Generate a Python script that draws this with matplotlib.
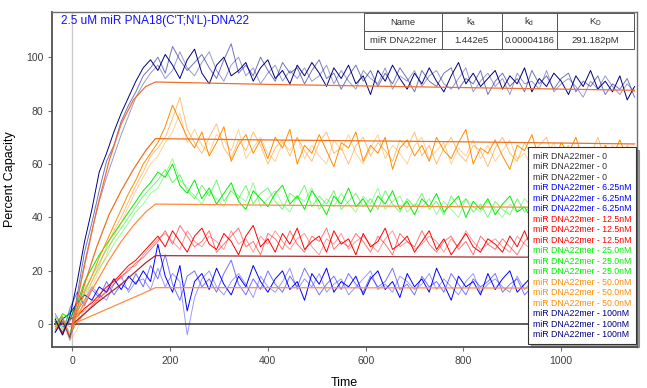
import numpy as np
import matplotlib
matplotlib.use('Agg')
import matplotlib.pyplot as plt
from matplotlib.lines import Line2D

plt.rcParams['font.family'] = ['Liberation Sans', 'DejaVu Sans']

# sampling grid of the sensorgram (s)
time = np.arange(-35, 1151, 15)

# 0 nM replicates (reference subtracted, flat)
zero_a = [0.0] * len(time)
zero_b = [0.0] * len(time)
zero_c = [0.0] * len(time)

# 6.25 nM
blue_a = [
    -3, 2, 4, 8, 11, 9, 14, 12, 17, 13,
    18, 15, 20, 16, 30, 18, 12, 22, 5, 16,
    19, 13, 21, 15, 11, 18, 14, 22, 16, 12,
    17, 20, 13, 16, 9, 19, 15, 21, 12, 16,
    14, 18, 11, 17, 20, 13, 16, 10, 19, 14,
    17, 12, 21, 15, 9, 18, 14, 16, 11, 19,
    13, 17, 20, 12, 15, 18, 10, 16, 14, 19,
    12, 15, 17, 11, 16, 13, 18, 10, 15, 14]
blue_b = [
    1, -4, 6, 12, 7, 13, 10, 16, 11, 15,
    13, 19, 14, 22, 17, 26, 15, 9, 18, 20,
    14, 17, 12, 19, 24, 15, 11, 17, 13, 20,
    15, 12, 18, 14, 21, 16, 11, 15, 18, 13,
    19, 15, 12, 18, 14, 16, 21, 13, 15, 11,
    18, 14, 16, 12, 19, 15, 11, 17, 14, 16,
    19, 12, 15, 17, 11, 14, 18, 13, 16, 12,
    17, 14, 11, 16, 19, 13, 15, 12, 17, 13]
blue_c = [
    0, 3, -6, 5, 9, 14, 11, 9, 15, 18,
    12, 16, 17, 13, 21, 14, 19, 16, -4, 10,
    17, 20, 14, 11, 16, 19, 15, 10, 18, 14,
    12, 16, 21, 13, 17, 14, 19, 12, 15, 17,
    11, 14, 17, 20, 13, 15, 12, 18, 16, 13,
    15, 19, 13, 17, 14, 11, 16, 19, 12, 15,
    17, 14, 12, 18, 13, 16, 15, 11, 17, 14,
    16, 12, 18, 14, 11, 16, 13, 17, 12, 15]

# 12.5 nM
red_a = [
    1, -3, 2, 3, 6, 8, 11, 14, 16, 19,
    22, 24, 27, 30, 33, 29, 35, 31, 27, 33,
    36, 30, 28, 34, 31, 26, 33, 37, 29, 32,
    27, 34, 30, 36, 28, 31, 33, 27, 35, 30,
    32, 26, 34, 29, 31, 36, 28, 30, 33, 27,
    31, 35, 28, 32, 26, 30, 34, 29, 27, 32,
    30, 27, 33, 29, 35, 28, 31, 26, 32, 29,
    33, 27, 30, 28, 34, 26, 31, 29, 27, 32]
red_b = [
    -2, 2, -4, 1, 4, 7, 10, 12, 15, 18,
    20, 23, 25, 28, 31, 35, 30, 37, 33, 29,
    31, 35, 27, 30, 33, 36, 29, 31, 26, 34,
    32, 28, 35, 30, 27, 33, 31, 36, 28, 31,
    29, 34, 31, 27, 33, 30, 26, 34, 31, 29,
    35, 30, 27, 31, 33, 28, 31, 26, 33, 30,
    28, 32, 29, 26, 31, 34, 28, 30, 27, 31,
    29, 33, 26, 30, 28, 32, 29, 25, 30, 28]
red_c = [
    0, 1, -1, 4, 5, 9, 9, 13, 17, 17,
    21, 22, 26, 29, 32, 34, 31, 28, 35, 31,
    29, 33, 31, 28, 35, 30, 32, 27, 33, 30,
    35, 31, 28, 32, 34, 29, 26, 32, 30, 34,
    28, 31, 33, 30, 27, 32, 35, 29, 31, 28,
    30, 33, 31, 27, 32, 29, 35, 31, 28, 30,
    32, 29, 27, 33, 30, 28, 32, 30, 26, 31,
    28, 31, 29, 32, 27, 30, 33, 28, 31, 27]

# 25.0 nM
green_a = [
    -1, 4, 2, 8, 16, 21, 26, 30, 34, 38,
    42, 46, 50, 53, 57, 55, 60, 52, 49, 54,
    47, 51, 45, 49, 53, 46, 43, 50, 47, 44,
    49, 52, 45, 48, 43, 50, 46, 41, 48, 45,
    51, 44, 47, 42, 48, 45, 50, 43, 46, 41,
    47, 44, 49, 42, 45, 48, 40, 46, 43, 47,
    41, 45, 48, 42, 44, 39, 46, 43, 40, 45,
    42, 47, 40, 44, 41, 46, 39, 43, 45, 41]
green_b = [
    3, -2, 5, 6, 13, 18, 23, 28, 32, 36,
    40, 44, 48, 51, 54, 58, 53, 56, 50, 47,
    52, 48, 54, 46, 50, 47, 52, 45, 49, 51,
    46, 43, 49, 47, 52, 44, 48, 45, 50, 43,
    46, 49, 44, 47, 43, 50, 45, 42, 47, 44,
    49, 43, 46, 41, 48, 44, 47, 42, 45, 40,
    46, 43, 41, 47, 42, 45, 43, 40, 46, 42,
    44, 39, 45, 42, 47, 40, 43, 41, 44, 39]
green_c = [
    0, 2, -3, 5, 11, 16, 21, 25, 30, 34,
    38, 42, 45, 49, 51, 56, 62, 54, 51, 48,
    45, 50, 47, 44, 51, 48, 46, 53, 44, 47,
    50, 45, 42, 48, 46, 51, 43, 47, 44, 49,
    45, 42, 48, 45, 51, 43, 46, 48, 42, 45,
    44, 47, 41, 46, 43, 40, 47, 44, 42, 46,
    43, 40, 45, 42, 47, 44, 41, 43, 46, 40,
    43, 45, 41, 38, 44, 42, 46, 40, 42, 44]

# 50.0 nM
orange_a = [
    -2, 3, -5, 4, 12, 18, 25, 31, 37, 43,
    49, 54, 60, 64, 68, 74, 82, 76, 70, 66,
    72, 63, 68, 74, 61, 67, 71, 64, 69, 62,
    70, 66, 73, 60, 67, 64, 71, 65, 59, 68,
    66, 72, 61, 67, 64, 70, 58, 66, 69, 63,
    67, 61, 70, 65, 62, 68, 73, 60, 66, 64,
    69, 63, 58, 67, 65, 71, 62, 66, 60, 68,
    64, 70, 61, 65, 59, 67, 63, 69, 62, 66]
orange_b = [
    1, -4, 2, 1, 9, 16, 22, 29, 35, 40,
    46, 52, 57, 63, 66, 70, 77, 85, 73, 68,
    64, 70, 75, 66, 62, 69, 65, 72, 67, 60,
    66, 69, 63, 70, 65, 61, 68, 72, 64, 66,
    60, 67, 70, 63, 68, 65, 61, 69, 66, 72,
    63, 67, 60, 66, 70, 64, 61, 67, 65, 59,
    66, 70, 64, 61, 68, 63, 67, 70, 61, 64,
    67, 60, 66, 63, 70, 62, 65, 60, 67, 63]
orange_c = [
    3, 0, -6, -2, 7, 14, 20, 26, 33, 38,
    44, 50, 55, 60, 63, 68, 72, 79, 68, 73,
    67, 64, 71, 69, 65, 73, 62, 66, 70, 64,
    61, 68, 65, 70, 62, 67, 63, 60, 69, 65,
    71, 64, 60, 66, 71, 62, 67, 64, 60, 67,
    70, 62, 65, 68, 60, 66, 63, 69, 62, 67,
    61, 65, 69, 62, 64, 59, 66, 63, 68, 60,
    63, 66, 62, 58, 65, 61, 67, 62, 59, 64]

# 100 nM
navy_a = [
    2, -4, 3, 16, 31, 43, 57, 64, 72, 79,
    85, 91, 96, 99, 95, 101, 97, 92, 99, 103,
    94, 90, 97, 100, 93, 95, 98, 91, 96, 99,
    92, 95, 90, 97, 93, 98, 94, 89, 96, 92,
    97, 90, 93, 86, 95, 91, 97, 92, 88, 94,
    90, 96, 91, 87, 93, 98, 90, 94, 89, 92,
    95, 88, 93, 90, 96, 87, 92, 89, 94, 91,
    86, 93, 89, 95, 88, 91, 87, 93, 84, 89]
navy_b = [
    -3, 1, -5, 11, 27, 38, 50, 61, 67, 76,
    82, 87, 93, 96, 100, 94, 104, 99, 95, 98,
    101, 96, 92, 99, 105, 94, 97, 93, 100, 95,
    91, 98, 94, 96, 90, 95, 99, 92, 94, 88,
    93, 97, 91, 95, 89, 94, 90, 96, 92, 87,
    95, 91, 89, 94, 96, 88, 92, 90, 95, 86,
    91, 94, 89, 92, 87, 95, 90, 93, 88, 92,
    94, 87, 91, 89, 93, 86, 90, 88, 92, 85]
navy_c = [
    4, -1, 1, 9, 23, 35, 46, 55, 63, 71,
    78, 85, 90, 94, 97, 92, 95, 102, 96, 93,
    98, 102, 95, 91, 97, 100, 93, 96, 90, 94,
    97, 91, 95, 92, 96, 91, 93, 97, 90, 95,
    91, 88, 95, 92, 90, 96, 88, 93, 91, 95,
    89, 93, 95, 90, 88, 92, 96, 87, 91, 94,
    89, 92, 86, 94, 90, 91, 88, 95, 87, 90,
    92, 89, 85, 91, 88, 93, 89, 86, 90, 87]

# global fit curves
fit_time = [0, 25, 50, 75, 100, 125, 150, 170, 400, 800, 1150]
fit_100 = [0, 22, 43, 61, 75, 84, 89, 90.7, 89.8, 88.6, 87.6]
fit_50 = [0, 15, 29, 41, 50, 58, 65, 69.5, 69.0, 68.3, 67.5]
fit_25 = [0, 8, 16, 24, 31, 37, 42, 45.0, 44.6, 44.0, 43.5]
fit_12 = [0, 4, 8, 11.5, 15, 19, 23, 25.7, 25.5, 25.2, 25.0]
fit_6 = [0, 2, 4, 6, 8, 10, 12, 13.7, 13.7, 13.6, 13.5]

conc_labels = ['0', '6.25nM', '12.5nM', '25.0nM', '50.0nM', '100nM']
conc_colors = ['#303030', '#0000FF', '#FF0000', '#00EE00', '#FF8C00', '#000080']
replicates = [
    [zero_a, zero_b, zero_c],
    [blue_a, blue_b, blue_c],
    [red_a, red_b, red_c],
    [green_a, green_b, green_c],
    [orange_a, orange_b, orange_c],
    [navy_a, navy_b, navy_c],
]

table_cols = ['Name', r'k$_\mathregular{a}$', r'k$_\mathregular{d}$', r'K$_\mathregular{D}$']
table_row = ['miR DNA22mer', '1.442e5', '0.00004186', '291.182pM']

fig = plt.figure(figsize=(6.47, 3.88), dpi=100)
ax = fig.add_axes([0.0808, 0.1057, 0.9037, 0.8641])

ax.axvline(0, color='#cccccc', lw=1.0, zorder=0)

handles = []
labels = []
rep_alpha = [1.0, 0.55, 0.4]
for lab, col, reps in zip(conc_labels, conc_colors, replicates):
    for k, y in enumerate(reps):
        if lab == '0':
            ax.plot(time, y, color='#606060', lw=1.3, zorder=1)
        else:
            ax.plot(time, y, color=col, lw=0.7, alpha=rep_alpha[k], zorder=2)
        handles.append(Line2D([], [], color=col))
        labels.append('miR DNA22mer - ' + lab)

for f, c in zip([fit_6, fit_12, fit_25, fit_50, fit_100],
                ['#FF8C40', '#A03030', '#FF8C40', '#F07020', '#F07030']):
    ax.plot(fit_time, f, color=c, lw=0.9, zorder=5)

ax.set_xlim(-41, 1155)
ax.set_ylim(-8.5, 117)
ax.set_xticks([0, 200, 400, 600, 800, 1000])
ax.set_yticks([0, 20, 40, 60, 80, 100])
ax.tick_params(colors='#707070', labelcolor='#404040', labelsize=7.5, length=3, width=0.8)
for s in ax.spines.values():
    s.set_color('#707070')
    s.set_linewidth(1.0)
ax.spines['left'].set_color('#505050')
ax.spines['bottom'].set_color('#505050')
ax.spines['left'].set_linewidth(1.3)
ax.spines['bottom'].set_linewidth(1.3)

ax.set_xlabel('Time', fontsize=9, labelpad=8)
ax.set_ylabel('Percent Capacity', fontsize=9, labelpad=7)

ax.text(0.0149, 0.973, "2.5 uM miR PNA18(C'T;N'L)-DNA22", transform=ax.transAxes,
        color='#1010FF', fontsize=8.5, ha='left', va='center', zorder=10)

tb = ax.table(cellText=[table_row], colLabels=table_cols,
              colWidths=[0.288, 0.222, 0.204, 0.286], cellLoc='center',
              bbox=[0.533, 0.8888, 0.4619, 0.1073], zorder=10)
tb.auto_set_font_size(False)
tb.set_fontsize(6.8)
for cell in tb.get_celld().values():
    cell.set_edgecolor('#555555')
    cell.set_linewidth(0.7)
    cell.set_facecolor('white')
    cell.get_text().set_color('#303030')

leg = ax.legend(handles, labels, loc='upper left', bbox_to_anchor=(0.8136, 0.5965),
                borderaxespad=0, fontsize=6.3, labelcolor='linecolor',
                handlelength=0, handletextpad=0, labelspacing=0.17,
                frameon=True, fancybox=False, shadow=True, framealpha=1,
                borderpad=0.55)
leg.get_frame().set_edgecolor('#333333')
leg.get_frame().set_linewidth(0.8)
leg.set_zorder(20)

fig.savefig('out.png', dpi=100)
